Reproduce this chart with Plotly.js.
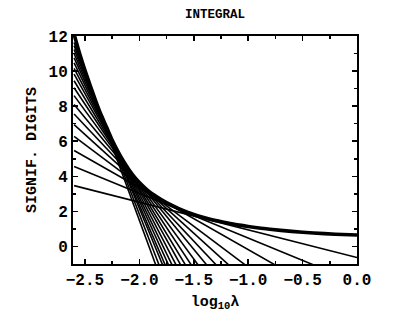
<!DOCTYPE html>
<html>
<head>
<meta charset="utf-8">
<script src="https://cdn.plot.ly/plotly-3.0.1.min.js"></script>
<style>html,body{margin:0;padding:0;background:#fff;}#plot{width:415px;height:318px;}</style>
</head>
<body>
<div id="plot"></div>
<script>
// Thick envelope curve (log10 lambda, significant digits)
const curveX = [-2.6, -2.55, -2.5, -2.45, -2.4, -2.35, -2.3, -2.25, -2.2, -2.15, -2.1, -2.05, -2.0, -1.9, -1.8, -1.7, -1.6, -1.5, -1.4, -1.3, -1.2, -1.1, -1.0, -0.8, -0.6, -0.4, -0.2, 0.0];
const curveY = [12.1, 11.02, 10.05, 9.15, 8.28, 7.48, 6.78, 6.07, 5.45, 4.9, 4.42, 4.0, 3.65, 3.08, 2.68, 2.34, 2.05, 1.83, 1.64, 1.48, 1.35, 1.23, 1.14, 0.98, 0.86, 0.77, 0.70, 0.65];

// Family of straight lines: value at log10(lambda) = -2.6 and at 0.0
const lineXStart = -2.6;
const lineXEnd = 0.0;
const lineYStart = [3.47, 4.56, 5.47, 6.28, 6.95, 7.55, 8.1, 8.6, 9.05, 9.45, 9.82, 10.16, 10.47, 10.75, 11.0, 11.23, 11.44, 11.63];
const lineYEnd = [-0.63, -2.07, -3.71, -5.84, -7.69, -9.58, -11.43, -13.42, -15.34, -17.23, -19.04, -20.94, -22.81, -24.61, -26.44, -28.03, -30.16, -32.31];

const xTickVals = [-2.5, -2.0, -1.5, -1.0, -0.5, 0.0];
const xTickText = ['\u22122.5', '\u22122.0', '\u22121.5', '\u22121.0', '\u22120.5', '0.0'];
const yTickVals = [0, 2, 4, 6, 8, 10, 12];
const yTickText = ['0', '2', '4', '6', '8', '10', '12'];

const traces = [];
for (let i = 0; i < lineYStart.length; i++) {
  traces.push({
    x: [lineXStart, lineXEnd],
    y: [lineYStart[i], lineYEnd[i]],
    mode: 'lines',
    line: {color: '#000', width: 1.6},
    hoverinfo: 'skip',
    showlegend: false
  });
}
traces.push({
  x: curveX, y: curveY, mode: 'lines',
  line: {color: '#000', width: 3.6, shape: 'spline', smoothing: 0.6},
  showlegend: false
});

const FONT = 'Liberation Mono, DejaVu Sans Mono, monospace';
const layout = {
  width: 415, height: 318,
  margin: {l: 73, r: 58, t: 36, b: 54, pad: 0},
  paper_bgcolor: '#fff', plot_bgcolor: '#fff',
  showlegend: false,
  font: {family: FONT, color: '#000', size: 16, weight: 'bold'},
  title: {text: 'INTEGRAL', x: 0.518, xanchor: 'center', y: 0.958, yanchor: 'middle',
          font: {family: FONT, size: 12.5, weight: 'bold', color: '#000'}},
  xaxis: {
    range: [-2.61, 0.0], autorange: false,
    showgrid: false, zeroline: false,
    showline: true, linecolor: '#000', linewidth: 2, mirror: 'ticks',
    ticks: 'inside', ticklen: 5, tickwidth: 1.5, tickcolor: '#000',
    tickmode: 'array', tickvals: xTickVals, ticktext: xTickText,
    tickfont: {family: FONT, size: 16, weight: 'bold'},
    minor: {dtick: 0.25, tick0: 0, ticks: 'inside', ticklen: 3, tickwidth: 1.5, tickcolor: '#000', showgrid: false},
    title: {text: 'log<sub>10</sub>\u03bb', standoff: 6, font: {family: FONT, size: 15, weight: 'bold'}}
  },
  yaxis: {
    range: [-1, 12], autorange: false,
    showgrid: false, zeroline: false,
    showline: true, linecolor: '#000', linewidth: 2, mirror: 'ticks',
    ticks: 'inside', ticklen: 5, tickwidth: 1.5, tickcolor: '#000',
    tickmode: 'array', tickvals: yTickVals, ticktext: yTickText,
    tickfont: {family: FONT, size: 16, weight: 'bold'},
    minor: {dtick: 1, tick0: 0, ticks: 'inside', ticklen: 3, tickwidth: 1.5, tickcolor: '#000', showgrid: false},
    title: {text: 'SIGNIF. DIGITS', standoff: 8, font: {family: FONT, size: 15, weight: 'bold'}}
  }
};

Plotly.newPlot('plot', traces, layout, {staticPlot: true, displayModeBar: false});
</script>
</body>
</html>
